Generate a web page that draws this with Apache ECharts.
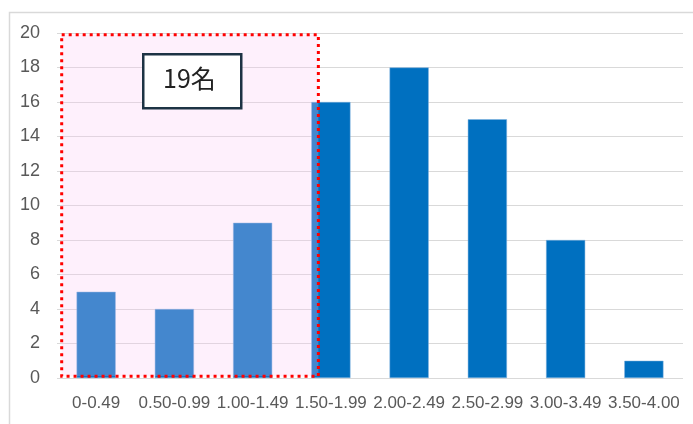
<!DOCTYPE html>
<html>
<head>
<meta charset="utf-8">
<script src="https://cdn.jsdelivr.net/npm/echarts@6/dist/echarts.min.js"></script>
<style>
  html, body { margin: 0; padding: 0; background: #fff; }
  #chart { width: 693px; height: 424px; }
</style>
</head>
<body>
<div id="chart"></div>
<script>
const categories = ["0-0.49", "0.50-0.99", "1.00-1.49", "1.50-1.99", "2.00-2.49", "2.50-2.99", "3.00-3.49", "3.50-4.00"];
const counts = [5, 4, 9, 16, 18, 15, 8, 1];
const yTicks = [0, 2, 4, 6, 8, 10, 12, 14, 16, 18, 20];
// highlighted range in category-index units (edges of the dotted box)
const highlightX = [-0.44, 2.84];
const highlightY = [0.1, 19.9];
const highlightLabel = "19名";

const chart = echarts.init(document.getElementById("chart"));

chart.setOption({
  animation: false,
  backgroundColor: "#fff",
  grid: { left: 57, right: 10, top: 33, bottom: 46 },
  xAxis: [
    {
      type: "category",
      data: categories,
      axisLine: { show: false },
      axisTick: { show: false },
      axisLabel: {
        interval: 0,
        color: "#595959",
        fontSize: 17,
        fontFamily: "Liberation Sans, Arial",
        margin: 17
      }
    },
    {
      type: "value",
      min: -0.5,
      max: categories.length - 0.5,
      show: false
    }
  ],
  yAxis: {
    type: "value",
    min: yTicks[0],
    max: yTicks[yTicks.length - 1],
    interval: 2,
    axisLine: { show: false },
    axisTick: { show: false },
    splitLine: { lineStyle: { color: "#d9d9d9", width: 1 } },
    axisLabel: {
      color: "#595959",
      fontSize: 18,
      fontFamily: "Liberation Sans, Arial",
      margin: 17
    }
  },
  series: [
    {
      type: "bar",
      data: counts,
      barWidth: "50%",
      z: 2,
      itemStyle: { color: "#0070C0", borderColor: "#7fb1de", borderWidth: 0.5 }
    },
    {
      type: "line",
      xAxisIndex: 1,
      data: [],
      z: 5,
      markArea: {
        silent: true,
        z: 10,
        itemStyle: {
          color: "rgba(250,200,245,0.27)",
          borderColor: "#ff0000",
          borderWidth: 3,
          borderType: [3, 4]
        },
        data: [[
          { coord: [highlightX[0], highlightY[1]] },
          { coord: [highlightX[1], highlightY[0]] }
        ]]
      }
    }
  ],
  graphic: [
    {
      type: "rect",
      left: 7,
      top: 10,
      z: 0,
      silent: true,
      shape: { width: 700, height: 430 },
      style: { fill: "none", stroke: "#d9d9d9", lineWidth: 1.5 }
    },
    {
      type: "rect",
      left: 142,
      top: 53,
      z: 20,
      shape: { width: 98, height: 54 },
      style: { fill: "#fff", stroke: "#1d3344", lineWidth: 2.5 }
    },
    {
      type: "text",
      left: 163,
      top: 66,
      z: 21,
      style: {
        text: highlightLabel,
        fill: "#222",
        font: "25px 'Noto Sans CJK JP', sans-serif"
      }
    }
  ]
});
</script>
</body>
</html>
